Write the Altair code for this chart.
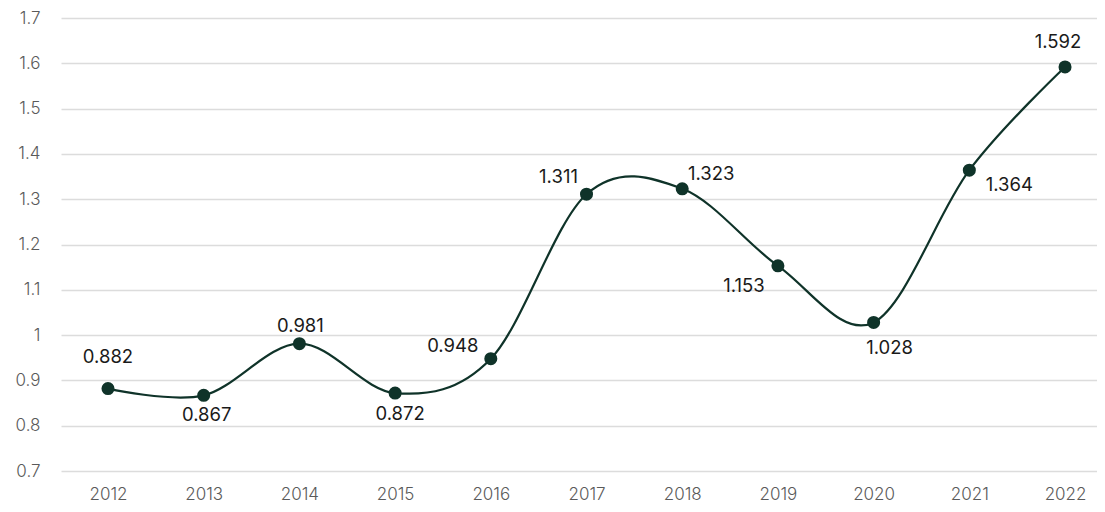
import altair as alt
import pandas as pd

years = [2012, 2013, 2014, 2015, 2016, 2017, 2018, 2019, 2020, 2021, 2022]
values = [0.882, 0.867, 0.981, 0.872, 0.948, 1.311, 1.323, 1.153, 1.028, 1.364, 1.592]
labels = ["0.882", "0.867", "0.981", "0.872", "0.948", "1.311", "1.323", "1.153", "1.028", "1.364", "1.592"]
y_ticks = [0.7, 0.8, 0.9, 1.0, 1.1, 1.2, 1.3, 1.4, 1.5, 1.6, 1.7]
# label placement offsets in pixels (style only)
label_dx = [0, 3, 1, 5, -38, -28, 29, -34, 16, 40, -7]
label_dy = [-32, 20, -18, 21, -13, -17, -15, 20, 26, 15, -25]

df = pd.DataFrame({"year": years, "value": values, "label": labels})

FONT = "Inter"
GREEN = "#0f3329"

x = alt.X("year:Q", title=None,
          scale=alt.Scale(domain=[2011.509, 2022.334], nice=False, zero=False),
          axis=alt.Axis(values=years, format="d", labelAngle=0, labelFontSize=17,
                        labelColor="#5a5a5a", labelFont=FONT, labelFontWeight=300,
                        ticks=False, domain=False, labelPadding=15, grid=False))
y = alt.Y("value:Q", title=None,
          scale=alt.Scale(domain=[0.7, 1.7], nice=False, zero=False),
          axis=alt.Axis(values=y_ticks, format=".1~f", labelFontSize=17, labelColor="#5a5a5a",
                        labelFont=FONT, labelFontWeight=300, ticks=False, domain=False,
                        labelPadding=21, gridColor="#dcdcdc", gridWidth=1.5))

base = alt.Chart(df)
line = base.mark_line(interpolate="cardinal", color=GREEN, strokeWidth=2.2).encode(x=x, y=y)
pts = base.mark_circle(color=GREEN, size=170, opacity=1).encode(x=x, y=y)

text_layers = []
for i in range(len(years)):
    t = alt.Chart(df.iloc[[i]]).mark_text(
        fontSize=18.5, font=FONT, color="#1a1a1a", dx=int(label_dx[i]), dy=int(label_dy[i])
    ).encode(x=x, y=y, text="label:N")
    text_layers.append(t)

chart = alt.layer(line, pts, *text_layers).properties(
    width=1036, height=453,
    padding={"left": 53, "top": 10, "right": 0, "bottom": 35},
    autosize=alt.AutoSizeParams(type="none"),
).configure_view(stroke=None)

chart.save("out.html", embed_options={"renderer": "svg", "actions": False})
